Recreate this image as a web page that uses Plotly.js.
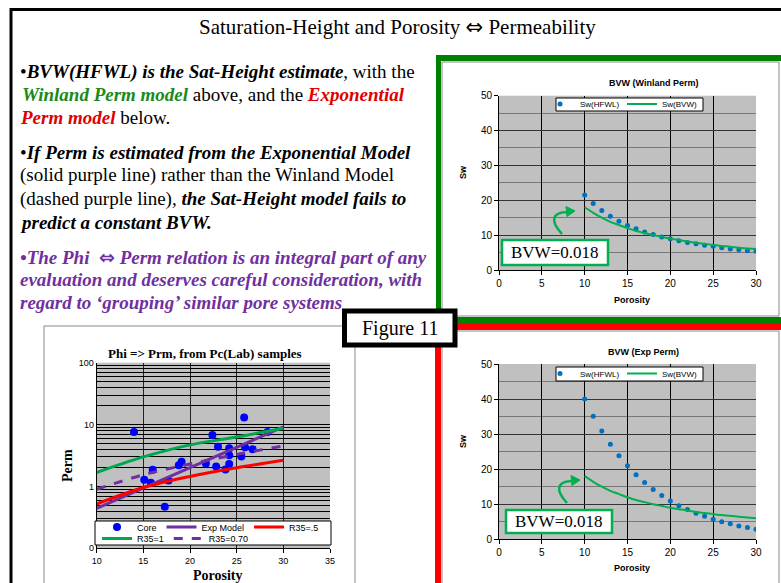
<!DOCTYPE html>
<html><head><meta charset="utf-8">
<script src="https://cdn.plot.ly/plotly-3.0.1.min.js"></script>
<style>html,body{margin:0;padding:0;background:#fff}#c{width:781px;height:583px}</style>
</head><body><div id="c"></div>
<script>
// ---------- data ----------
const porosity = [10,11,12,13,14,15,16,17,18,19,20,21,22,23,24,25,26,27,28,29,30];
const swHfwlWinland = [21.5,19.1,17.1,15.4,14.0,12.8,11.8,10.9,10.2,9.5,9.0,8.4,7.9,7.5,7.1,6.8,6.4,6.0,5.8,5.5,5.4];
const swBvw = [18,16.4,15,13.8,12.9,12,11.2,10.6,10,9.5,9,8.6,8.2,7.8,7.5,7.2,6.9,6.7,6.4,6.2,6];
const swHfwlExp = [40.0,35.1,30.9,27.1,23.8,21.0,18.4,16.2,14.2,12.5,10.9,9.6,8.5,7.4,6.6,5.7,5.0,4.4,3.8,3.4,2.9];

const corePhi  = [14.0,15.1,15.8,16.0,17.3,17.7,18.8,19.1,21.7,22.4,22.8,23.0,23.8,24.2,24.2,24.2,25.5,25.8,25.9,26.7,28.3];
const corePerm = [7.6,1.28,1.15,1.86,0.47,1.25,2.2,2.5,2.35,6.8,2.1,4.4,1.88,4.15,3.2,2.3,3.05,13,4.3,4.0,7.6];

const curvePhi = [10,15,20,25,30];
const expModelPerm = [0.44,0.94,2.0,4.3,9.2];
const r35Half = [0.52,0.96,1.45,2.0,2.65];
const r35One = [1.68,3.0,4.7,6.3,8.7];
const r35Seventy = [0.9,1.54,2.3,3.3,4.5];

const logTickLabels = ['0','1','10','100'];

// ---------- helpers ----------
const W=781,H=583;
const px=x=>x/W, py=y=>1-y/H;
function pathPx(pts){
  return pts.map(p=>{let s=p[0];for(let i=1;i<p.length;i+=2){s+=' '+px(p[i]).toFixed(5)+','+py(p[i+1]).toFixed(5);}return s;}).join(' ');
}
function rect(x0,y0,x1,y1,opt){return Object.assign({type:'rect',xref:'paper',yref:'paper',x0:px(x0),x1:px(x1),y0:py(y0),y1:py(y1),layer:'above'},opt);}
function line(x0,y0,x1,y1,color,w){return {type:'line',xref:'paper',yref:'paper',x0:px(x0),x1:px(x1),y0:py(y0),y1:py(y1),line:{color:color,width:w},layer:'above'};}
function ann(x,y,text,font,opt){return Object.assign({xref:'paper',yref:'paper',x:px(x),y:py(y),text:text,showarrow:false,font:font,xanchor:'center',yanchor:'middle',borderpad:0},opt);}

const logTicks=[];const logText=[];
[0.1,1,10].forEach(d=>{for(let k=1;k<10;k++){logTicks.push(+(d*k).toPrecision(3));logText.push(k===1?logTickLabels[Math.round(Math.log10(d))+1]:'');}});
logTicks.push(100);logText.push(logTickLabels[3]);

const SERIF='Liberation Serif, Times New Roman, serif';
const SANS='Liberation Sans, Arial, sans-serif';
const GREEN='#00b050';
const PURPLE='#7030a0';
const TXT={family:SERIF,size:19,color:'#000'};
const TXTP={family:SERIF,size:19,color:PURPLE};
const L={xanchor:'left'};
const ARROW="<span style='font-family:DejaVu Sans'>⇔</span>";

// ---------- traces ----------
const traces=[
 {x:corePhi,y:corePerm,mode:'markers',name:'Core',marker:{color:'#0000ff',size:8},xaxis:'x',yaxis:'y',legend:'legend'},
 {x:curvePhi,y:expModelPerm,mode:'lines',name:'Exp Model',line:{color:PURPLE,width:3},xaxis:'x',yaxis:'y',legend:'legend'},
 {x:curvePhi,y:r35Half,mode:'lines',name:'R35=.5',line:{color:'#ff0000',width:3,shape:'spline'},xaxis:'x',yaxis:'y',legend:'legend'},
 {x:curvePhi,y:r35One,mode:'lines',name:'R35=1',line:{color:'#00a650',width:3,shape:'spline'},xaxis:'x',yaxis:'y',legend:'legend4'},
 {x:curvePhi,y:r35Seventy,mode:'lines',name:'R35=0.70',line:{color:PURPLE,width:3,dash:'dash',shape:'spline'},xaxis:'x',yaxis:'y',legend:'legend4'},

 {x:porosity,y:swHfwlWinland,mode:'markers',name:'Sw(HFWL)',marker:{color:'#0070c0',size:5},xaxis:'x2',yaxis:'y2',legend:'legend2'},
 {x:porosity,y:swBvw,mode:'lines',name:'Sw(BVW)',line:{color:GREEN,width:2,shape:'spline'},xaxis:'x2',yaxis:'y2',legend:'legend2'},

 {x:porosity,y:swHfwlExp,mode:'markers',name:'Sw(HFWL)',marker:{color:'#0070c0',size:5},xaxis:'x3',yaxis:'y3',legend:'legend3'},
 {x:porosity,y:swBvw,mode:'lines',name:'Sw(BVW)',line:{color:GREEN,width:2,shape:'spline'},xaxis:'x3',yaxis:'y3',legend:'legend3'}
];

const rightX=(anchor)=>({domain:[px(499),px(756)],range:[0,30],dtick:5,anchor:anchor,showline:true,linecolor:'#000',linewidth:1,ticks:'outside',ticklen:4,tickcolor:'#000',
  gridcolor:'#000',gridwidth:1,zeroline:false,tickfont:{family:SANS,size:10,color:'#000'}});
const rightY=(anchor,d0,d1)=>({domain:[py(d0),py(d1)],range:[0,50],dtick:10,anchor:anchor,showline:true,linecolor:'#000',linewidth:1,ticks:'outside',ticklen:4,tickcolor:'#000',
  gridcolor:'#333',gridwidth:1,zeroline:false,minor:{dtick:5,showgrid:true,gridcolor:'#777',gridwidth:1,ticks:''},tickfont:{family:SANS,size:10,color:'#000'}});

const legendBase={orientation:'h',bgcolor:'rgba(0,0,0,0)',borderwidth:0,font:{family:SANS,size:9,color:'#000'},xanchor:'left',yanchor:'top',itemwidth:30,tracegroupgap:0};

const layout={
 width:W,height:H,margin:{l:0,r:0,t:0,b:0},paper_bgcolor:'#fff',plot_bgcolor:'#c0c0c0',
 xaxis:{domain:[px(96.7),px(330)],range:[10,35],dtick:5,anchor:'y',showline:true,linecolor:'#000',linewidth:1,ticks:'outside',ticklen:4,tickcolor:'#000',
   gridcolor:'#222',gridwidth:1,zeroline:false,tickfont:{family:SANS,size:9,color:'#000'}},
 yaxis:{domain:[py(548.3),py(362.7)],type:'log',range:[-1,2],anchor:'x',tickmode:'array',tickvals:logTicks,ticktext:logText,showline:true,linecolor:'#000',linewidth:1,
   ticks:'',gridcolor:'#000',gridwidth:1,zeroline:false,tickfont:{family:SANS,size:9,color:'#000'}},
 xaxis2:rightX('y2'), yaxis2:rightY('x2',270,95.7),
 xaxis3:rightX('y3'), yaxis3:rightY('x3',539.3,364),
 legend:Object.assign({},legendBase,{x:px(97),y:py(512.5)}),
 legend4:Object.assign({},legendBase,{x:px(97),y:py(524)}),
 legend2:Object.assign({},legendBase,{x:px(540),y:py(89.5),entrywidth:37,font:{family:SANS,size:8,color:'#000'}}),
 legend3:Object.assign({},legendBase,{x:px(540),y:py(359),entrywidth:37,font:{family:SANS,size:8,color:'#000'}}),
 showlegend:true,
 shapes:[
  line(10,9.5,781,9.5,'#000',3),
  line(11,8,11,583,'#000',3),
  rect(442,62,779,316,{line:{color:'#888',width:1}}),
  rect(442,331,779,600,{line:{color:'#888',width:1}}),
  rect(44,326,355,600,{line:{color:'#888',width:1}}),
  rect(436,55,781,61,{fillcolor:'#008000',line:{width:0}}),
  rect(436,55,441,323,{fillcolor:'#008000',line:{width:0}}),
  rect(436,317,781,323,{fillcolor:'#008000',line:{width:0}}),
  rect(436,323,781,330,{fillcolor:'#ff0000',line:{width:0}}),
  rect(435,323,441,583,{fillcolor:'#ff0000',line:{width:0}}),
  rect(95,521,331,545,{fillcolor:'#fff',line:{color:'#000',width:1}}),
  rect(556,98,703,111,{fillcolor:'#fff',line:{color:'#000',width:1}}),
  rect(556,367,703,381,{fillcolor:'#fff',line:{color:'#000',width:1}}),
  rect(502,240,608,265,{fillcolor:'#fff',line:{color:GREEN,width:2.5}}),
  rect(506,510,612,533,{fillcolor:'#fff',line:{color:GREEN,width:2.5}}),
  {type:'path',xref:'paper',yref:'paper',layer:'above',path:pathPx([['M',562,234],['C',551,222,550,212,569,212]]),line:{color:GREEN,width:2.5}},
  {type:'path',xref:'paper',yref:'paper',layer:'above',path:pathPx([['M',575,211],['L',566,206.5],['L',567,216.5],['Z']]),fillcolor:GREEN,line:{color:GREEN,width:1}},
  {type:'path',xref:'paper',yref:'paper',layer:'above',path:pathPx([['M',567,503],['C',556,491,555,481,574,481]]),line:{color:GREEN,width:2.5}},
  {type:'path',xref:'paper',yref:'paper',layer:'above',path:pathPx([['M',580,480],['L',571,475.5],['L',572,485.5],['Z']]),fillcolor:GREEN,line:{color:GREEN,width:1}},
  rect(344.5,311,455,345,{fillcolor:'#fff',line:{color:'#000',width:5}})
 ],
 annotations:[
  ann(397,27,'Saturation-Height and Porosity '+ARROW+' Permeability',{family:SERIF,size:21,color:'#000'}),
  ann(19,71.7,"•<b><i>BVW(HFWL) is the Sat-Height estimate</i></b>, with the",TXT,L),
  ann(21,94.5,"<b><i><span style='color:#1a8a1a'>Winland Perm model</span></i></b> above, and the <b><i><span style='color:#e00000'>Exponential</span></i></b>",TXT,L),
  ann(19,117.5,"<b><i><span style='color:#e00000'>Perm model</span></i></b> below.",TXT,L),
  ann(19,152,"•<b><i>If Perm is estimated from the Exponential Model</i></b>",TXT,L),
  ann(19,175,"(solid purple line) rather than the Winland Model",TXT,L),
  ann(19,198.5,"(dashed purple line), <b><i>the Sat-Height model fails to</i></b>",TXT,L),
  ann(19,222,"<b><i>predict a constant BVW.</i></b>",TXT,L),
  ann(19,257,"<b><i>•The Phi \u00a0"+ARROW+" Perm relation is an integral part of any</i></b>",TXTP,L),
  ann(19,279.5,"<b><i>evaluation and deserves careful consideration, with</i></b>",TXTP,L),
  ann(19,302,"<b><i>regard to ‘grouping’ similar pore systems</i></b>",TXTP,L),
  ann(399.5,328,'Figure 11',{family:SERIF,size:20,color:'#000'}),
  ann(653,83,'<b>BVW (Winland Perm)</b>',{family:SANS,size:9,color:'#000'}),
  ann(643,352,'<b>BVW (Exp Perm)</b>',{family:SANS,size:9,color:'#000'}),
  ann(463,172,'<b>Sw</b>',{family:SANS,size:9,color:'#000'},{textangle:-90}),
  ann(463,441,'<b>Sw</b>',{family:SANS,size:9,color:'#000'},{textangle:-90}),
  ann(632,300,'<b>Porosity</b>',{family:SANS,size:9,color:'#000'}),
  ann(632,568,'<b>Porosity</b>',{family:SANS,size:9,color:'#000'}),
  ann(555,252.5,'BVW=0.018',{family:SERIF,size:17,color:'#000'}),
  ann(559,521.5,'BVW=0.018',{family:SERIF,size:17,color:'#000'}),
  ann(205,353,'<b>Phi => Prm, from Pc(Lab) samples</b>',{family:SERIF,size:13,color:'#000'}),
  ann(67,466,'<b>Perm</b>',{family:SERIF,size:14,color:'#000'},{textangle:-90}),
  ann(218,575,'<b>Porosity</b>',{family:SERIF,size:14,color:'#000'})
 ]
};
Plotly.newPlot('c',traces,layout,{displayModeBar:false,staticPlot:true});
</script></body></html>
